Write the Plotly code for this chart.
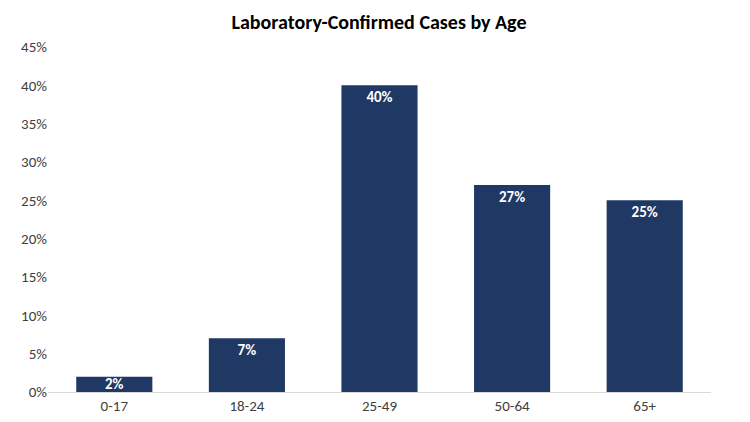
import plotly.graph_objects as go

categories = ["0-17", "18-24", "25-49", "50-64", "65+"]
values = [0.02, 0.07, 0.40, 0.27, 0.25]
labels = ["2%", "7%", "40%", "27%", "25%"]
tick_vals = [0, 0.05, 0.10, 0.15, 0.20, 0.25, 0.30, 0.35, 0.40, 0.45]
tick_text = ["0%", "5%", "10%", "15%", "20%", "25%", "30%", "35%", "40%", "45%"]

FONT = "Carlito, 'Liberation Sans Narrow', 'DejaVu Sans Condensed', sans-serif"
SMALL = 0.04
label_font = dict(color="white", size=15, family=FONT, weight="bold")

fig = go.Figure(go.Bar(
    x=categories, y=values,
    text=[t if v >= SMALL else "" for t, v in zip(labels, values)],
    textposition="inside", insidetextanchor="end", constraintext="none",
    textfont=label_font,
    marker=dict(color="#1F3864", line=dict(width=0)),
    hoverinfo="skip",
))

for c, v, t in zip(categories, values, labels):
    if v < SMALL:
        fig.add_annotation(x=c, y=v / 2, text=f"<b>{t}</b>", showarrow=False,
                           font=label_font, yanchor="middle")

fig.update_layout(
    width=742, height=414,
    margin=dict(l=40, r=39, t=39, b=30, autoexpand=False),
    paper_bgcolor="white", plot_bgcolor="white",
    bargap=0.426,
    showlegend=False,
    title=dict(text="<b>Laboratory-Confirmed Cases by Age</b>", x=0.5, xanchor="center",
               y=0.965, yanchor="middle",
               font=dict(size=20, color="#000000", family=FONT)),
    font=dict(family=FONT, size=15, color="#404040"),
)
fig.update_xaxes(showline=True, linecolor="#D9D9D9", linewidth=1, ticks="",
                 showgrid=False, automargin=False, tickfont=dict(size=15, color="#404040"))
fig.update_yaxes(range=[0, 0.45], tickvals=tick_vals, ticktext=tick_text,
                 showgrid=False, zeroline=False, showline=False, ticks="",
                 automargin=False, tickfont=dict(size=15, color="#404040"))

fig.write_html("out.html")
